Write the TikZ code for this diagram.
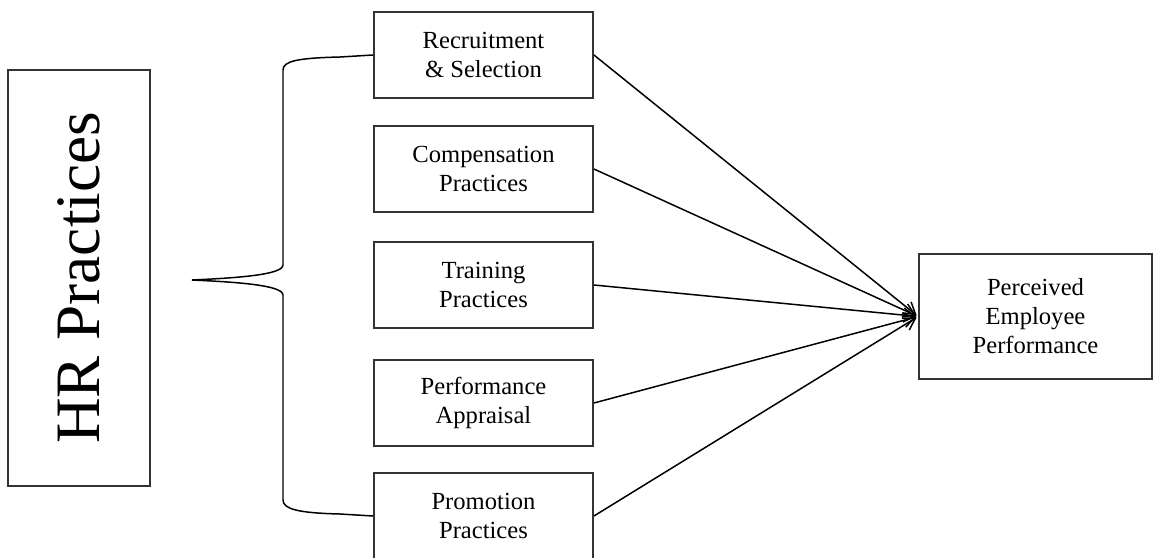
\documentclass[tikz,border=0pt]{standalone}
\usepackage{fontspec}
\setmainfont{Liberation Serif}
\usepackage{tikz}
\usetikzlibrary{arrows.meta, positioning, calc}
\definecolor{C_LINE}{HTML}{333333}
\tikzset{
  %% -- practice boxes (middle column) --
  HR/box/.style={
    draw=C_LINE, line width=1.1pt,
    minimum width=4.38cm, minimum height=1.72cm,
    align=center, font=\fontsize{14}{16.5}\selectfont
  },
  %% -- big rotated side box --
  HR/side/.style={
    draw=C_LINE, line width=1.1pt, rotate=90,
    minimum width=8.32cm, minimum height=2.84cm,
    font=\fontsize{36}{40}\selectfont
  },
  %% -- outcome box --
  HR/out/.style={
    draw=C_LINE, line width=1.1pt,
    minimum width=4.66cm, minimum height=2.5cm,
    align=center, font=\fontsize{14}{16.5}\selectfont
  },
  %% -- connectors --
  HR/arr/.style={-{Straight Barb[length=6.5pt, width=8pt]}, line width=0.85pt, shorten >=1pt},
  HR/brace/.style={line width=0.85pt},
}
\begin{document}
\begin{tikzpicture}[x=0.02cm, y=-0.02cm]

\useasboundingbox (0,0) rectangle (1154,558);

%% ━━━━━━━━━━━━━━━━━━━━━━━━━━━━━━━━━━━━━━━━━━━━━━━━━━━━━━━━━━━━━━━━━━━━━
%%  LEFT — HR Practices
%% ━━━━━━━━━━━━━━━━━━━━━━━━━━━━━━━━━━━━━━━━━━━━━━━━━━━━━━━━━━━━━━━━━━━━━
\node[HR/side] (hr) at (79,278) {HR Practices};

%% ━━━━━━━━━━━━━━━━━━━━━━━━━━━━━━━━━━━━━━━━━━━━━━━━━━━━━━━━━━━━━━━━━━━━━
%%  MIDDLE — practice boxes
%% ━━━━━━━━━━━━━━━━━━━━━━━━━━━━━━━━━━━━━━━━━━━━━━━━━━━━━━━━━━━━━━━━━━━━━
\pgfmathsetmacro{\mx}{483.5}  %% column centre

\node[HR/box] (rs) at (\mx,55)  {Recruitment\\\& Selection};
\node[HR/box] (cp) at (\mx,169) {Compensation\\Practices};
\node[HR/box] (tp) at (\mx,285) {Training\\Practices};
\node[HR/box] (pa) at (\mx,403) {Performance\\Appraisal};
\node[HR/box] (pr) at (\mx,516) {Promotion\\Practices};

%% Brace joining the first and last box
\coordinate (tip) at (192,280);
\draw[HR/brace] (rs.west) -- (340,57)
  .. controls (298,58) and (283,61) .. (283,70) -- (283,265)
  .. controls (283,275) and (235,278) .. (tip)
  .. controls (235,282) and (283,285) .. (283,295) -- (283,500)
  .. controls (283,509) and (298,513) .. (340,514) -- (pr.west);

%% ━━━━━━━━━━━━━━━━━━━━━━━━━━━━━━━━━━━━━━━━━━━━━━━━━━━━━━━━━━━━━━━━━━━━━
%%  RIGHT — outcome
%% ━━━━━━━━━━━━━━━━━━━━━━━━━━━━━━━━━━━━━━━━━━━━━━━━━━━━━━━━━━━━━━━━━━━━━
\node[HR/out] (pep) at (1035.5,316.5) {Perceived\\Employee\\Performance};

%% Arrows into the outcome
\foreach \b in {rs, cp, tp, pa, pr}
  \draw[HR/arr] (\b.east) -- (pep.west);

\end{tikzpicture}
\end{document}
